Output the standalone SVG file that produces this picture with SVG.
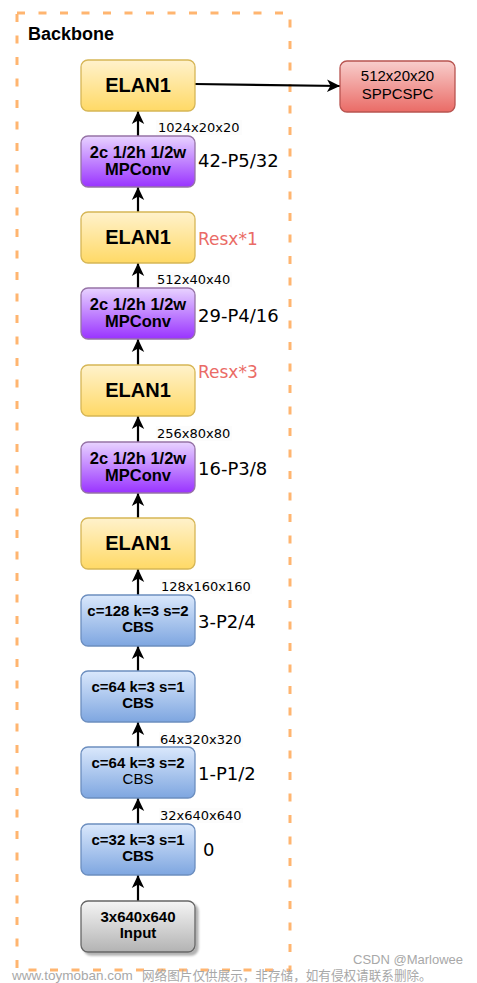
<svg xmlns="http://www.w3.org/2000/svg" width="477" height="983" viewBox="0 0 477 983">
<defs>
<linearGradient id="gY" x1="0" y1="0" x2="0" y2="1"><stop offset="0" stop-color="#FFF2CC"/><stop offset="1" stop-color="#FFD966"/></linearGradient>
<linearGradient id="gP" x1="0" y1="0" x2="0" y2="1"><stop offset="0" stop-color="#E8D3FF"/><stop offset="1" stop-color="#9933FF"/></linearGradient>
<linearGradient id="gB" x1="0" y1="0" x2="0" y2="1"><stop offset="0" stop-color="#DAE8FC"/><stop offset="1" stop-color="#7EA6E0"/></linearGradient>
<linearGradient id="gG" x1="0" y1="0" x2="0" y2="1"><stop offset="0" stop-color="#F5F5F5"/><stop offset="1" stop-color="#B3B3B3"/></linearGradient>
<linearGradient id="gR" x1="0" y1="0" x2="0" y2="1"><stop offset="0" stop-color="#F8CECC"/><stop offset="1" stop-color="#EA6B66"/></linearGradient>
<marker id="arr" markerUnits="userSpaceOnUse" markerWidth="16" markerHeight="16" viewBox="0 0 16 16" refX="14" refY="8" orient="auto">
<path d="M1,1.8 L14,8 L1,14.2 L4.5,8 Z" fill="#000"/>
</marker>
<filter id="sh" x="-10%" y="-10%" width="130%" height="140%"><feDropShadow dx="3" dy="3" stdDeviation="1.2" flood-color="#000" flood-opacity="0.3"/></filter>
</defs>
<style>
.ttl{font-family:"Liberation Sans",Arial,sans-serif;font-weight:bold;font-size:18px;fill:#000}
.elan{font-family:"Liberation Sans",Arial,sans-serif;font-weight:bold;font-size:20px;fill:#000;text-anchor:middle}
.nb{font-family:"Liberation Sans",Arial,sans-serif;font-weight:bold;font-size:15px;fill:#000;text-anchor:middle}
.mp{font-family:"Liberation Sans",Arial,sans-serif;font-weight:bold;font-size:16.5px;fill:#000;text-anchor:middle}
.nr{font-family:"Liberation Sans",Arial,sans-serif;font-size:15px;fill:#000;text-anchor:middle}
.dim{font-family:"DejaVu Sans",sans-serif;font-size:13px;fill:#000}
.lay{font-family:"DejaVu Sans",sans-serif;font-size:18px;fill:#000}
.res{font-family:"DejaVu Sans",sans-serif;font-size:17px;fill:#EA6B66}
.y{fill:url(#gY);stroke:#D6B656;stroke-width:1.3}
.p{fill:url(#gP);stroke:#9673A6;stroke-width:1.3}
.b{fill:url(#gB);stroke:#6C8EBF;stroke-width:1.3}
.g{fill:url(#gG);stroke:#666666;stroke-width:1.3}
.r{fill:url(#gR);stroke:#B85450;stroke-width:1.3}
.edge{stroke:#000;stroke-width:2.2;fill:none;marker-end:url(#arr)}
.wm{font-family:"Liberation Sans","Noto Sans CJK SC",sans-serif;fill:#A8A8A8}
</style>
<rect width="477" height="983" fill="#FFFFFF"/>
<g id="backbone">
<rect x="17" y="13" width="273" height="957" fill="none" stroke="#FFB570" stroke-width="3" stroke-dasharray="8 13.5"/>
<text class="ttl" x="28" y="40">Backbone</text>
</g>
<g id="connectors">
<line class="edge" x1="138" y1="136" x2="138" y2="111"/>
<line class="edge" x1="138" y1="212" x2="138" y2="187"/>
<line class="edge" x1="138" y1="288" x2="138" y2="263"/>
<line class="edge" x1="138" y1="365" x2="138" y2="339"/>
<line class="edge" x1="138" y1="442" x2="138" y2="416"/>
<line class="edge" x1="138" y1="518" x2="138" y2="493"/>
<line class="edge" x1="138" y1="595" x2="138" y2="569"/>
<line class="edge" x1="138" y1="671" x2="138" y2="646"/>
<line class="edge" x1="138" y1="747" x2="138" y2="722"/>
<line class="edge" x1="138" y1="824" x2="138" y2="798"/>
<line class="edge" x1="138" y1="901" x2="138" y2="875"/>
<line class="edge" x1="195" y1="84" x2="340" y2="86"/>
</g>
<g id="dims">
<rect x="156" y="120" width="86" height="15" fill="#FCFCFC"/><text class="dim" x="158" y="132">1024x20x20</text>
<rect x="156" y="272" width="76" height="15" fill="#FCFCFC"/><text class="dim" x="157" y="284">512x40x40</text>
<rect x="156" y="426" width="76" height="15" fill="#FCFCFC"/><text class="dim" x="157" y="438">256x80x80</text>
<rect x="160" y="579" width="92" height="15" fill="#FCFCFC"/><text class="dim" x="161" y="591">128x160x160</text>
<rect x="159" y="732" width="84" height="15" fill="#FCFCFC"/><text class="dim" x="160" y="744">64x320x320</text>
<rect x="159" y="808" width="84" height="15" fill="#FCFCFC"/><text class="dim" x="160" y="820">32x640x640</text>
</g>
<g id="elan1_top">
<rect class="y" x="81" y="60" width="114" height="51" rx="7"/>
<text class="elan" x="138" y="91.5">ELAN1</text>
</g>
<g id="sppcspc">
<rect class="r" x="340" y="61" width="115" height="51" rx="7"/>
<text class="nr" x="397.5" y="81">512x20x20</text>
<text class="nr" x="397.5" y="99">SPPCSPC</text>
</g>
<g id="mpconv_42">
<rect class="p" x="81" y="136" width="114" height="51" rx="7"/>
<text class="mp" x="138" y="158">2c 1/2h 1/2w</text>
<text class="mp" x="138" y="175">MPConv</text>
<text class="lay" x="198" y="167">42-P5/32</text>
</g>
<g id="elan1_2">
<rect class="y" x="81" y="212" width="114" height="51" rx="7"/>
<text class="elan" x="138" y="243.5">ELAN1</text>
<text class="res" x="198" y="245">Resx*1</text>
</g>
<g id="mpconv_29">
<rect class="p" x="81" y="288" width="114" height="51" rx="7"/>
<text class="mp" x="138" y="310">2c 1/2h 1/2w</text>
<text class="mp" x="138" y="327">MPConv</text>
<text class="lay" x="198" y="322">29-P4/16</text>
</g>
<g id="elan1_3">
<rect class="y" x="81" y="365" width="114" height="51" rx="7"/>
<text class="elan" x="138" y="396.5">ELAN1</text>
<text class="res" x="198" y="378">Resx*3</text>
</g>
<g id="mpconv_16">
<rect class="p" x="81" y="442" width="114" height="51" rx="7"/>
<text class="mp" x="138" y="464">2c 1/2h 1/2w</text>
<text class="mp" x="138" y="481">MPConv</text>
<text class="lay" x="198" y="475">16-P3/8</text>
</g>
<g id="elan1_4">
<rect class="y" x="81" y="518" width="114" height="51" rx="7"/>
<text class="elan" x="138" y="549.5">ELAN1</text>
</g>
<g id="cbs_3">
<rect class="b" x="81" y="595" width="114" height="51" rx="7"/>
<text class="nb" x="138" y="616">c=128 k=3 s=2</text>
<text class="nb" x="138" y="632">CBS</text>
<text class="lay" x="198" y="628">3-P2/4</text>
</g>
<g id="cbs_2">
<rect class="b" x="81" y="671" width="114" height="51" rx="7"/>
<text class="nb" x="138" y="692">c=64 k=3 s=1</text>
<text class="nb" x="138" y="708">CBS</text>
</g>
<g id="cbs_1">
<rect class="b" x="81" y="747" width="114" height="51" rx="7"/>
<text class="nb" x="138" y="768">c=64 k=3 s=2</text>
<text class="nr" x="138" y="784">CBS</text>
<text class="lay" x="198" y="780">1-P1/2</text>
</g>
<g id="cbs_0">
<rect class="b" x="81" y="824" width="114" height="51" rx="7"/>
<text class="nb" x="138" y="845">c=32 k=3 s=1</text>
<text class="nb" x="138" y="861">CBS</text>
<text class="lay" x="203" y="856">0</text>
</g>
<g id="input">
<rect class="g" x="81" y="901" width="114" height="51" rx="7" filter="url(#sh)"/>
<text class="nb" x="138" y="922">3x640x640</text>
<text class="nb" x="138" y="938">Input</text>
</g>
<g id="watermark">
<text class="wm" x="12" y="980" font-size="13.5">www.toymoban.com</text>
<text class="wm" x="142" y="980" font-size="12.6">网络图片仅供展示，非存储，如有侵权请联系删除。</text>
<text class="wm" x="353" y="964" font-size="13" fill="#8C8C8C">CSDN @Marlowee</text>
</g>
</svg>
